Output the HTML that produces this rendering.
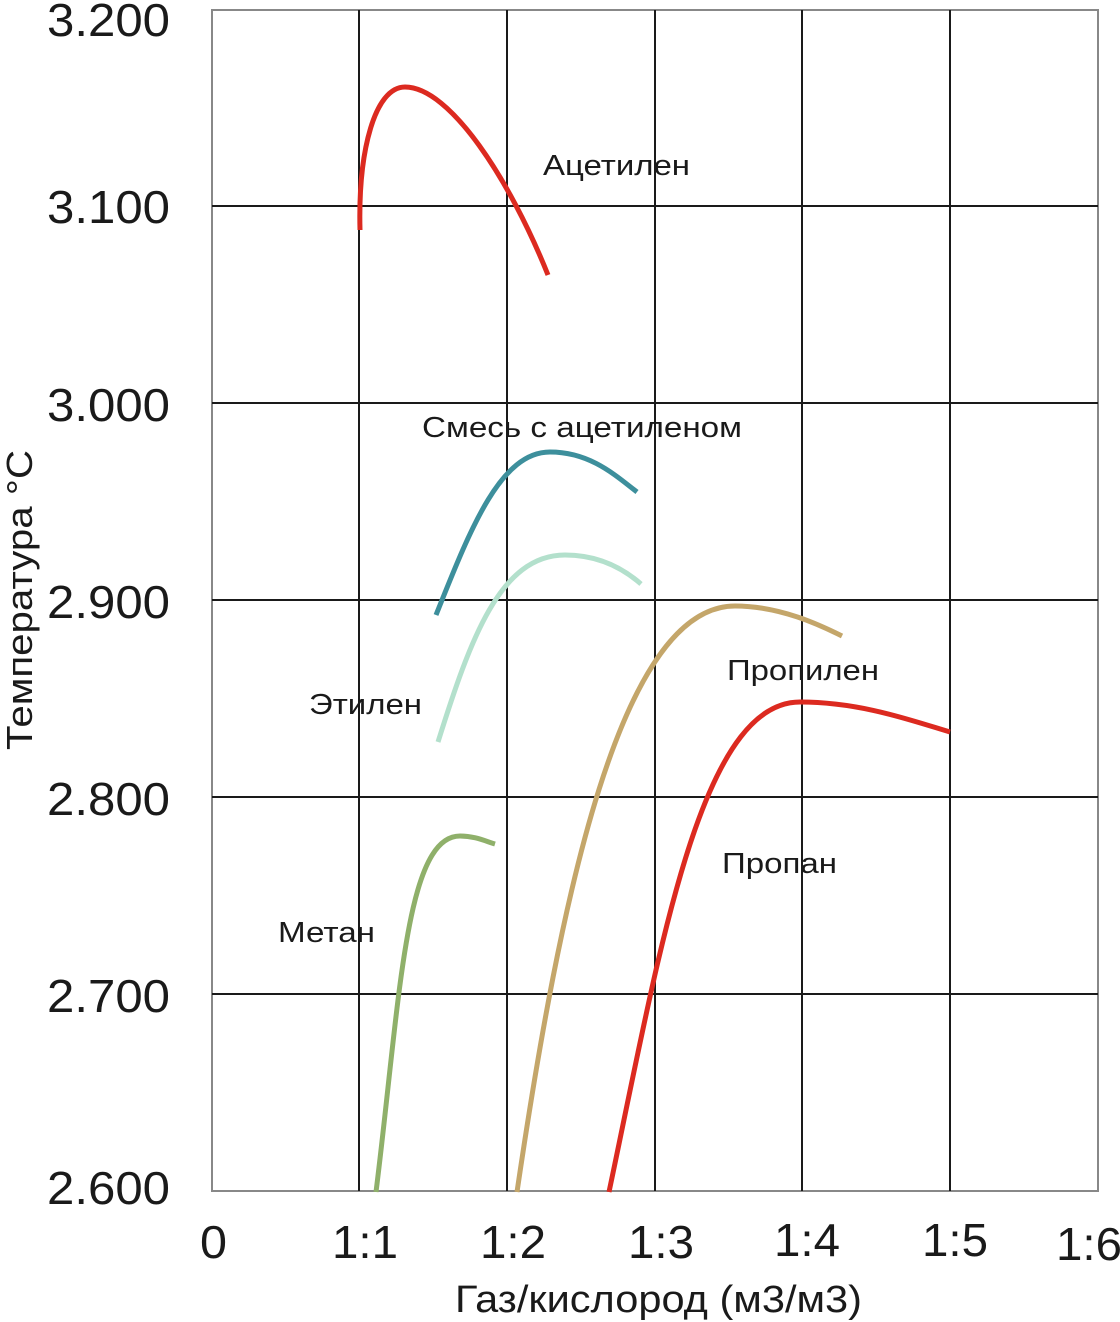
<!DOCTYPE html>
<html><head><meta charset="utf-8"><style>html,body{margin:0;padding:0;background:#fff}svg{display:block}</style></head>
<body>
<svg width="1120" height="1322" viewBox="0 0 1120 1322" xmlns="http://www.w3.org/2000/svg" font-family="Liberation Sans, sans-serif" fill="#1a1a1a">
<rect x="212" y="10" width="886" height="1181" fill="none" stroke="#888" stroke-width="2"/>
<g stroke="#1a1a1a" stroke-width="2">
<line x1="359" y1="10" x2="359" y2="1191"/>
<line x1="507" y1="10" x2="507" y2="1191"/>
<line x1="655" y1="10" x2="655" y2="1191"/>
<line x1="802" y1="10" x2="802" y2="1191"/>
<line x1="950" y1="10" x2="950" y2="1191"/>
<line x1="212" y1="206" x2="1098" y2="206"/>
<line x1="212" y1="403" x2="1098" y2="403"/>
<line x1="212" y1="600" x2="1098" y2="600"/>
<line x1="212" y1="797" x2="1098" y2="797"/>
<line x1="212" y1="994" x2="1098" y2="994"/>
</g>
<g fill="none" stroke-width="5">
<path d="M360,230 C358,150 375,87 405,87 C450,87 510,180 548,275" stroke="#dc2a20"/>
<path d="M436,615 C470,530 500,452 550,452 C590,452 615,475 637,492" stroke="#3d8f9c"/>
<path d="M438,742 C470,640 500,555 565,555 C600,555 625,570 641,584" stroke="#b3e0cc"/>
<path d="M517,1192 C560,900 620,606 735,606 C780,606 820,625 842,636" stroke="#c4a66a"/>
<path d="M609,1192 C660,950 700,702 800,702 C860,702 910,720 950,732" stroke="#dc2a20"/>
<path d="M376,1192 C400,1000 405,836 460,836 C475,836 485,841 495,844" stroke="#8fb06a"/>
</g>
<g font-size="46" lengthAdjust="spacingAndGlyphs">
<text x="47" y="36" textLength="123" lengthAdjust="spacingAndGlyphs">3.200</text>
<text x="47" y="223" textLength="123" lengthAdjust="spacingAndGlyphs">3.100</text>
<text x="47" y="421" textLength="123" lengthAdjust="spacingAndGlyphs">3.000</text>
<text x="47" y="618" textLength="123" lengthAdjust="spacingAndGlyphs">2.900</text>
<text x="47" y="815" textLength="123" lengthAdjust="spacingAndGlyphs">2.800</text>
<text x="47" y="1012" textLength="123" lengthAdjust="spacingAndGlyphs">2.700</text>
<text x="47" y="1204" textLength="123" lengthAdjust="spacingAndGlyphs">2.600</text>
</g>
<g font-size="46">
<text x="200" y="1258" textLength="27" lengthAdjust="spacingAndGlyphs">0</text>
<text x="332" y="1258" textLength="66" lengthAdjust="spacingAndGlyphs">1:1</text>
<text x="480" y="1258" textLength="66" lengthAdjust="spacingAndGlyphs">1:2</text>
<text x="628" y="1258" textLength="66" lengthAdjust="spacingAndGlyphs">1:3</text>
<text x="774" y="1256" textLength="66" lengthAdjust="spacingAndGlyphs">1:4</text>
<text x="922" y="1256" textLength="66" lengthAdjust="spacingAndGlyphs">1:5</text>
<text x="1056" y="1260" textLength="66" lengthAdjust="spacingAndGlyphs">1:6</text>
</g>
<text x="455" y="1312" font-size="38" textLength="407" lengthAdjust="spacingAndGlyphs">Газ/кислород (м3/м3)</text>
<text transform="translate(32,750) rotate(-90)" font-size="36" textLength="300" lengthAdjust="spacingAndGlyphs">Температура °С</text>
<g font-size="29">
<text x="543" y="175" textLength="147" lengthAdjust="spacingAndGlyphs">Ацетилен</text>
<text x="422" y="437" textLength="320" lengthAdjust="spacingAndGlyphs">Смесь с ацетиленом</text>
<text x="309" y="714" textLength="113" lengthAdjust="spacingAndGlyphs">Этилен</text>
<text x="727" y="680" textLength="152" lengthAdjust="spacingAndGlyphs">Пропилен</text>
<text x="722" y="873" textLength="115" lengthAdjust="spacingAndGlyphs">Пропан</text>
<text x="278" y="942" textLength="97" lengthAdjust="spacingAndGlyphs">Метан</text>
</g>
</svg>
</body></html>
